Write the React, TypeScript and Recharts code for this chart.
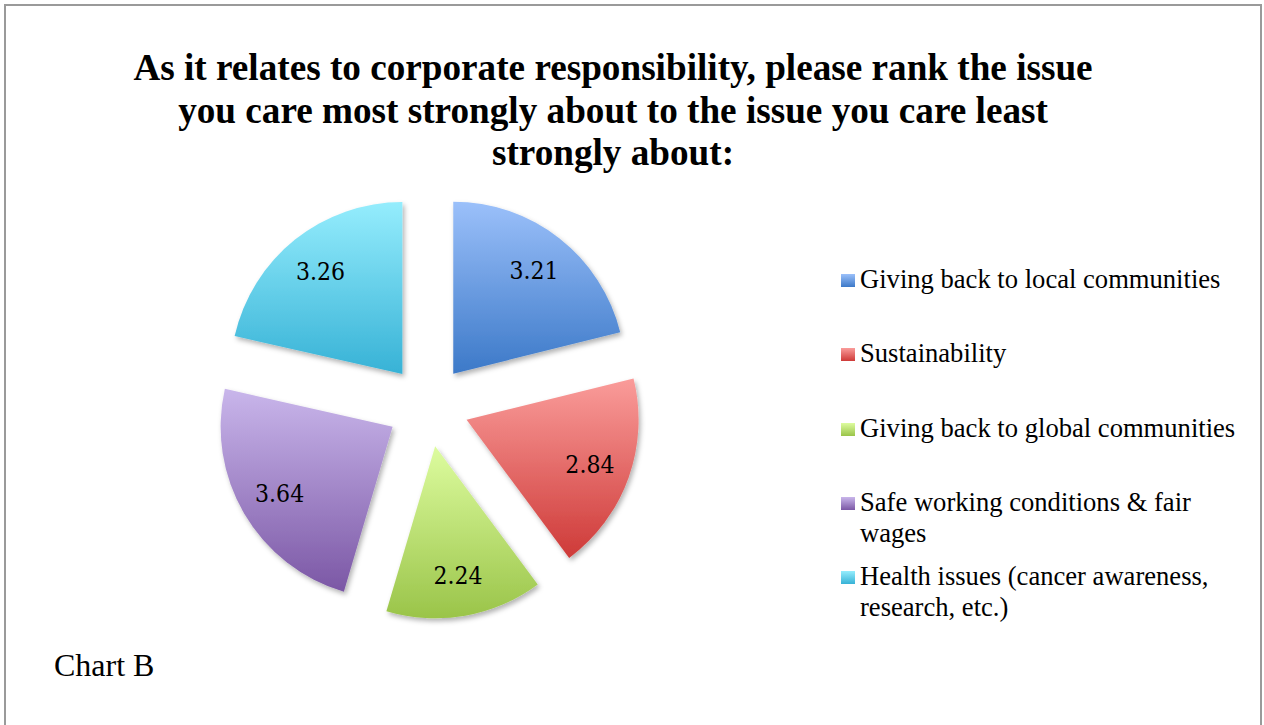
import React from 'react';
import { PieChart, Pie, Cell, Sector, Legend } from 'recharts';

const categories = [
  'Giving back to local communities',
  'Sustainability',
  'Giving back to global communities',
  'Safe working conditions & fair wages',
  'Health issues (cancer awareness, research, etc.)',
];
const values = [3.21, 2.84, 2.24, 3.64, 3.26];
const topColors = ['#9BC0FA', '#FA9C9A', '#DDFC9F', '#C9B6EB', '#95EDFD'];
const bottomColors = ['#3C79C8', '#CE3A38', '#9AC449', '#7B57A5', '#37B2D6'];

const titleLines = [
  'As it relates to corporate responsibility, please rank the issue',
  'you care most strongly about to the issue you care least',
  'strongly about:',
];
const footnote = 'Chart B';

const data = categories.map((name, i) => ({ name, value: values[i] }));

const RAD = Math.PI / 180;
const EXPLODE = 41;
const LABEL_R = 131;

const renderSector = (props: any) => {
  const { cx, cy, midAngle } = props;
  const dx = EXPLODE * Math.cos(-midAngle * RAD);
  const dy = EXPLODE * Math.sin(-midAngle * RAD);
  return <Sector {...props} cx={cx + dx} cy={cy + dy} stroke="none" filter="url(#pieShadow)" />;
};

const renderLabel = (props: any) => {
  const { cx, cy, midAngle, value } = props;
  const r = EXPLODE + LABEL_R;
  const x = cx + r * Math.cos(-midAngle * RAD);
  const y = cy + r * Math.sin(-midAngle * RAD);
  return (
    <text
      x={x}
      y={y}
      textAnchor="middle"
      dominantBaseline="central"
      fill="#000"
      style={{ fontFamily: "'DejaVu Serif Condensed', 'DejaVu Serif', serif", fontSize: 24.5 }}
    >
      {value.toFixed(2)}
    </text>
  );
};

const renderLegend = () => (
  <div style={{ position: 'relative', fontFamily: "'Liberation Serif', 'Times New Roman', serif", fontSize: 26.6, lineHeight: '31px', color: '#000' }}>
    {categories.map((c, i) => (
      <div key={c} style={{ position: 'absolute', left: 19, top: i * 74.3, width: 390 }}>
        <span
          style={{
            position: 'absolute',
            left: -19,
            top: 10,
            width: 14,
            height: 13,
            background: `linear-gradient(to bottom, ${topColors[i]}, ${bottomColors[i]})`,
          }}
        />
        {c}
      </div>
    ))}
  </div>
);

export default function App() {
  return (
    <div style={{ position: 'absolute', left: 0, top: 0, width: 1264, height: 725, background: '#fff', overflow: 'hidden' }}>
      <div
        style={{
          position: 'absolute',
          left: 4,
          top: 4,
          width: 1254,
          height: 760,
          border: '2px solid #9a9a9a',
          boxSizing: 'content-box',
        }}
      />
      <div
        style={{
          position: 'absolute',
          left: 113,
          top: 47,
          width: 1000,
          textAlign: 'center',
          fontFamily: "'Liberation Serif', 'Times New Roman', serif",
          fontWeight: 'bold',
          fontSize: 37.2,
          lineHeight: '42.5px',
          color: '#000',
        }}
      >
        {titleLines.map((l) => (
          <div key={l}>{l}</div>
        ))}
      </div>
      <div
        style={{
          position: 'absolute',
          left: 54,
          top: 645,
          fontFamily: "'Liberation Serif', 'Times New Roman', serif",
          fontSize: 32,
          lineHeight: '40px',
          color: '#000',
        }}
      >
        {footnote}
      </div>
      <div style={{ position: 'absolute', left: 0, top: 0 }}>
        <PieChart width={1264} height={725} margin={{ top: 0, right: 0, bottom: 0, left: 0 }}>
          <defs>
            {topColors.map((t, i) => (
              <linearGradient key={i} id={`grad${i}`} x1="0" y1="0" x2="0" y2="1">
                <stop offset="0%" stopColor={t} />
                <stop offset="100%" stopColor={bottomColors[i]} />
              </linearGradient>
            ))}
            <filter id="pieShadow" x="-20%" y="-20%" width="140%" height="140%">
              <feDropShadow dx="2" dy="3" stdDeviation="2.5" floodColor="#000" floodOpacity="0.3" />
            </filter>
          </defs>
          <Pie
            data={data}
            dataKey="value"
            nameKey="name"
            cx={428}
            cy={406}
            outerRadius={172}
            startAngle={90}
            endAngle={-270}
            stroke="none"
            isAnimationActive={false}
            shape={renderSector}
            inactiveShape={renderSector}
            label={renderLabel}
            labelLine={false}
          >
            {data.map((d, i) => (
              <Cell key={d.name} fill={`url(#grad${i})`} />
            ))}
          </Pie>
          <Legend
            content={renderLegend}
            wrapperStyle={{ position: 'absolute', left: 841, top: 264, width: 420, height: 360 }}
          />
        </PieChart>
      </div>
    </div>
  );
}
